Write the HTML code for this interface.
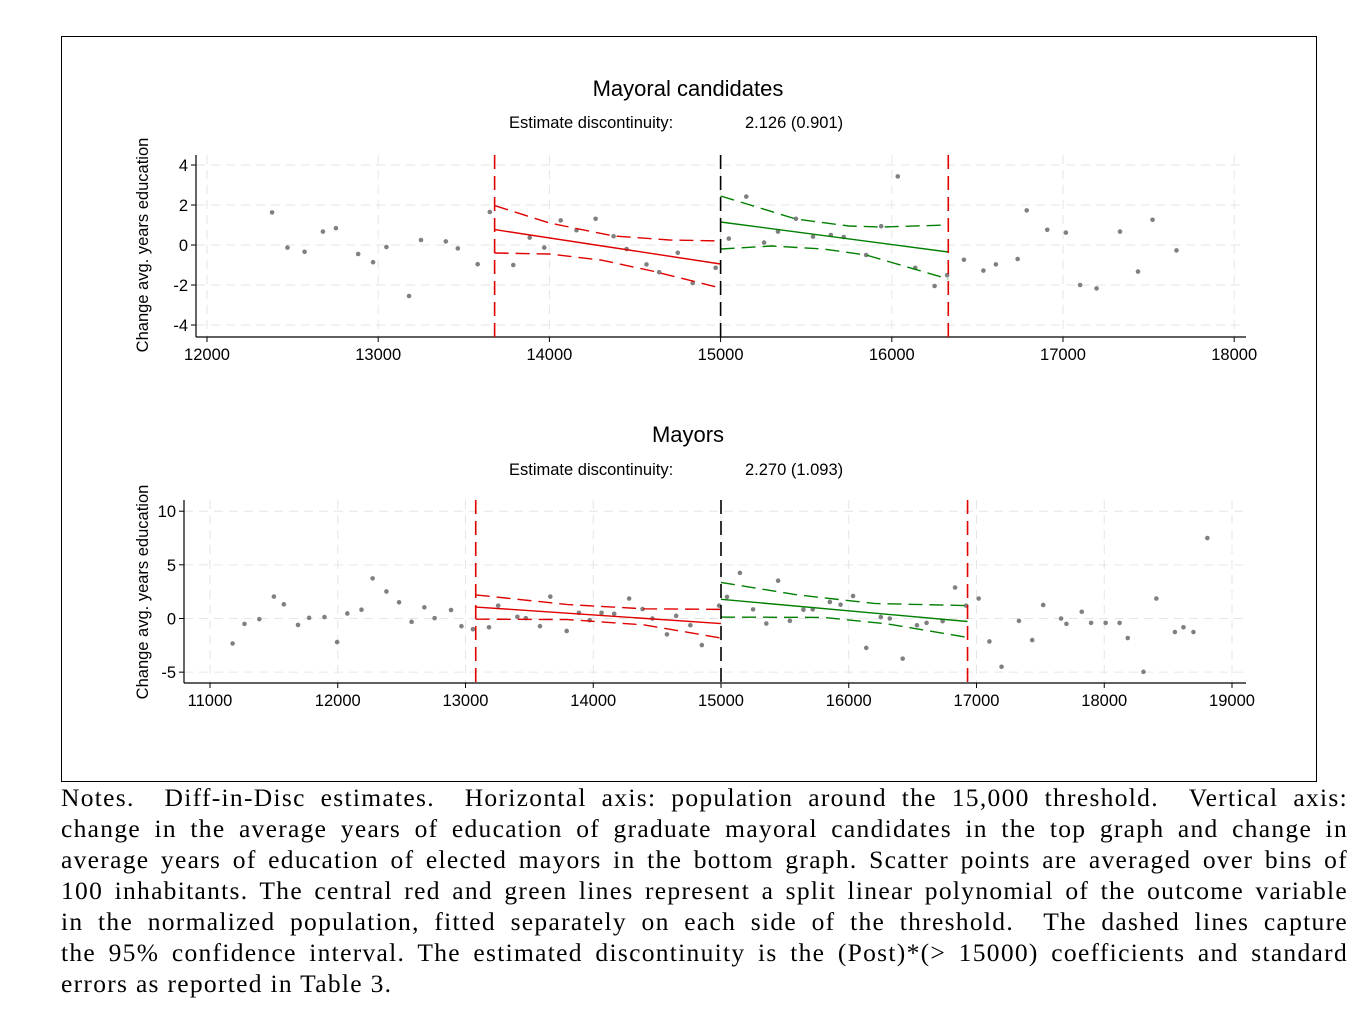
<!DOCTYPE html>
<html><head><meta charset="utf-8"><style>
body{margin:0;background:#fff;width:1362px;height:1014px;overflow:hidden;position:relative}
#frame{position:absolute;left:61px;top:36px;width:1254px;height:744px;border:1px solid #000}
svg{position:absolute;left:0;top:0}
.notes{position:absolute;left:61px;top:782px;width:1287px;font-family:"Liberation Serif",serif;font-size:25.5px;letter-spacing:1.3px;color:#000}
.notes div{height:31px;line-height:31px;text-align:justify;text-align-last:justify;white-space:nowrap}
.notes div.l{text-align-last:left}
</style></head><body>
<div id="frame"></div>
<svg id="s" width="1362" height="1014" font-family="Liberation Sans, sans-serif" font-size="16.5">
<text x="688" y="96" font-size="22" text-anchor="middle">Mayoral candidates</text>
<text x="509" y="128">Estimate discontinuity:</text>
<text x="745" y="128">2.126 (0.901)</text>
<text x="688" y="442" font-size="22" text-anchor="middle">Mayors</text>
<text x="509" y="475">Estimate discontinuity:</text>
<text x="745" y="475">2.270 (1.093)</text>
<text transform="translate(148,245) rotate(-90)" text-anchor="middle">Change avg. years education</text>
<text transform="translate(148,592) rotate(-90)" text-anchor="middle">Change avg. years education</text>
<g id="g"></g>
</svg>
<div class="notes">
<div>Notes. &nbsp;Diff-in-Disc estimates. &nbsp;Horizontal axis: population around the 15,000 threshold. &nbsp;Vertical axis:</div>
<div>change in the average years of education of graduate mayoral candidates in the top graph and change in</div>
<div>average years of education of elected mayors in the bottom graph. Scatter points are averaged over bins of</div>
<div>100 inhabitants. The central red and green lines represent a split linear polynomial of the outcome variable</div>
<div>in the normalized population, fitted separately on each side of the threshold. &nbsp;The dashed lines capture</div>
<div>the 95% confidence interval. The estimated discontinuity is the (Post)*(&gt; 15000) coefficients and standard</div>
<div class="l">errors as reported in Table 3.</div>
</div>
<script>
var g=document.getElementById('g'),h='';
function P(o){
 var X=function(v){return o.x0+(v-o.xv0)*o.xs}, Y=function(v){return o.y0-v*o.ys};
 o.xt.forEach(function(t){var x=X(t);h+='<line x1="'+x+'" y1="'+o.top+'" x2="'+x+'" y2="'+o.bot+'" stroke="#e6e6e6" stroke-dasharray="9,6"/>';
  h+='<line x1="'+x+'" y1="'+o.bot+'" x2="'+x+'" y2="'+(o.bot+5)+'" stroke="#000"/>';
  h+='<text x="'+x+'" y="'+(o.bot+23)+'" text-anchor="middle">'+t+'</text>';});
 o.yt.forEach(function(t){var y=Y(t);h+='<line x1="'+o.ax+'" y1="'+y+'" x2="'+o.right+'" y2="'+y+'" stroke="#e6e6e6" stroke-dasharray="9,6"/>';
  h+='<line x1="'+(o.ax-5)+'" y1="'+y+'" x2="'+o.ax+'" y2="'+y+'" stroke="#000"/>';
  h+='<text x="'+(o.ax-8)+'" y="'+(y+6)+'" text-anchor="end">'+t+'</text>';});
 h+='<line x1="'+o.ax+'" y1="'+o.top+'" x2="'+o.ax+'" y2="'+o.bot+'" stroke="#000" stroke-width="1.2"/>';
 h+='<line x1="'+o.ax+'" y1="'+o.bot+'" x2="'+o.right+'" y2="'+o.bot+'" stroke="#000" stroke-width="1.2"/>';
 o.d.forEach(function(p){h+='<circle cx="'+X(p[0])+'" cy="'+Y(p[1])+'" r="2.3" fill="#808080"/>';});
 function L(pts,c,dash){h+='<polyline fill="none" stroke="'+c+'" stroke-width="1.4" '+(dash?'stroke-dasharray="14,7" ':'')+'points="'+pts.map(function(p){return X(p[0])+','+Y(p[1])}).join(' ')+'"/>';}
 o.lines.forEach(function(l){L(l[0],l[1],l[2]);});
 [[o.v1,'#e00000'],[15000,'#000'],[o.v2,'#e00000']].forEach(function(v){var x=X(v[0]);h+='<line x1="'+x+'" y1="'+o.top+'" x2="'+x+'" y2="'+o.bot+'" stroke="'+v[1]+'" stroke-width="1.6" stroke-dasharray="14,7"/>';});
}
var R='#e00000',G='#007f00';
P({x0:207,xv0:12000,xs:0.1712,y0:245,ys:20,top:155,bot:337,ax:196,right:1246,
 xt:[12000,13000,14000,15000,16000,17000,18000],yt:[-4,-2,0,2,4],v1:13680,v2:16330,
 d:[[12380,1.63],[12470,-.13],[12570,-.34],[12677,.67],[12753,.84],[12883,-.45],[12970,-.86],[13048,-.1],[13180,-2.55],[13250,.25],[13395,.18],[13465,-.17],[13581,-.96],[13652,1.65],[13789,-1],[13885,.37],[13970,-.13],[14066,1.23],[14158,.74],[14270,1.31],[14375,.44],[14451,-.2],[14567,-.97],[14641,-1.36],[14750,-.39],[14837,-1.9],[14971,-1.14],
 [15048,.32],[15150,2.42],[15254,.12],[15335,.67],[15440,1.31],[15540,.42],[15644,.5],[15719,.4],[15850,-.5],[15938,.94],[16035,3.43],[16137,-1.14],[16250,-2.05],[16323,-1.51],[16421,-.74],[16535,-1.28],[16608,-.97],[16735,-.7],[16788,1.73],[16908,.76],[17017,.62],[17100,-2],[17196,-2.17],[17333,.67],[17438,-1.33],[17523,1.26],[17663,-.27]],
 lines:[[[[13680,.77],[15000,-.95]],R,0],[[[13680,1.97],[14000,1.1],[14375,.45],[14700,.25],[15000,.2]],R,1],[[[13680,-.4],[14000,-.45],[14300,-.75],[14600,-1.3],[15000,-2.15]],R,1],
 [[[15000,1.15],[16330,-.35]],G,0],[[[15000,2.45],[15440,1.3],[15750,.95],[15938,.9],[16330,1.0]],G,1],[[[15000,-.2],[15300,-.05],[15600,-.2],[15850,-.5],[16330,-1.7]],G,1]]});
P({x0:210,xv0:11000,xs:0.12775,y0:618.5,ys:10.73,top:500,bot:683,ax:184,right:1246,
 xt:[11000,12000,13000,14000,15000,16000,17000,18000,19000],yt:[-5,0,5,10],v1:13080,v2:16930,
 d:[[11177,-2.33],[11270,-.5],[11386,-.06],[11500,2.04],[11578,1.32],[11689,-.6],[11776,.06],[11896,.13],[11995,-2.2],[12075,.47],[12186,.82],[12273,3.74],[12381,2.52],[12480,1.51],[12578,-.31],[12678,1.04],[12758,.03],[12887,.79],[12968,-.72],[13058,-1],[13184,-.82],[13256,1.2],[13406,.16],[13472,.03],[13583,-.72],[13664,2.04],[13792,-1.16],[13888,.53],[13972,-.16],[14065,.53],[14164,.44],[14281,1.86],[14386,.88],[14463,0],[14577,-1.48],[14649,.25],[14760,-.63],[14850,-2.48],[14985,1.2],
 [15047,2.01],[15148,4.25],[15251,.85],[15355,-.47],[15447,3.52],[15539,-.22],[15645,.82],[15718,.85],[15852,1.54],[15936,1.29],[16034,2.1],[16137,-2.74],[16251,.13],[16321,0],[16422,-3.74],[16534,-.63],[16609,-.41],[16735,-.25],[16832,2.89],[16919,1.2],[17017,1.86],[17101,-2.14],[17196,-4.5],[17332,-.22],[17436,-2.01],[17522,1.26],[17662,0],[17704,-.5],[17824,.63],[17897,-.41],[18011,-.41],[18120,-.41],[18184,-1.82],[18307,-4.97],[18408,1.86],[18553,-1.26],[18620,-.82],[18698,-1.26],[18807,7.5]],
 lines:[[[[13080,1.07],[15000,-.47]],R,0],[[[13080,2.2],[13800,1.3],[14400,.9],[15000,.85]],R,1],[[[13080,-.06],[13800,-.1],[14400,-.6],[15000,-1.82]],R,1],
 [[[15000,1.79],[16930,-.28]],G,0],[[[15000,3.36],[15600,2.2],[16200,1.4],[16930,1.2]],G,1],[[[15000,.13],[15800,.1],[16300,-.5],[16930,-1.76]],G,1]]});
g.innerHTML=h;
</script>
</body></html>
